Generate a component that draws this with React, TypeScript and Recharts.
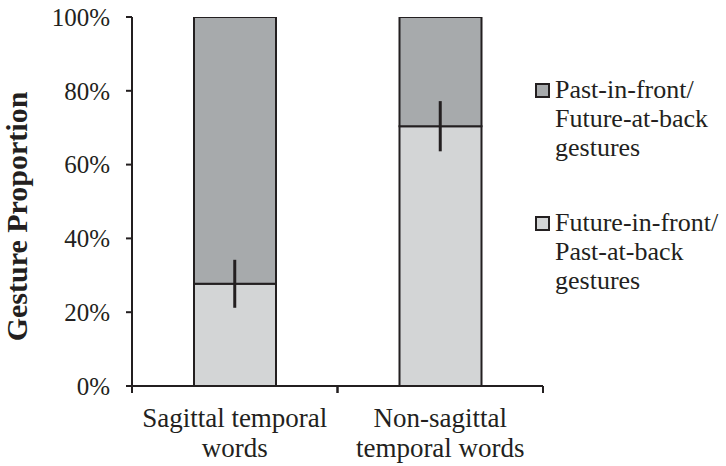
import React from 'react';
import { ComposedChart, Bar, Line, XAxis, YAxis, ErrorBar, Legend } from 'recharts';

// two word types, each split over two label lines
const CATEGORIES = [
  ['Sagittal temporal', 'words'],
  ['Non-sagittal', 'temporal words'],
];
const FUTURE_IN_FRONT = [27.7, 70.4];
const PAST_IN_FRONT = [72.3, 29.6];
const FUTURE_ERROR = [6.5, 6.8];
const Y_TICKS = [0, 20, 40, 60, 80, 100];

const LEGEND_ITEMS = [
  { lines: ['Past-in-front/', 'Future-at-back', 'gestures'], color: '#a7aaac' },
  { lines: ['Future-in-front/', 'Past-at-back', 'gestures'], color: '#d3d5d6' },
];

const INK = '#231f20';
const SERIF = '"Liberation Serif", "Times New Roman", serif';

const data = CATEGORIES.map((lines, i) => ({
  name: lines.join(' '),
  future: FUTURE_IN_FRONT[i],
  past: PAST_IN_FRONT[i],
  err: FUTURE_ERROR[i],
}));

const CategoryTick = (props: any) => {
  const { x, y, payload, index } = props;
  const half = payload.offset ?? 0;
  const lines = CATEGORIES[index] || [];
  return (
    <g>
      <line x1={x - half} x2={x - half} y1={y} y2={y + 7} stroke={INK} strokeWidth={2} />
      <line x1={x + half} x2={x + half} y1={y} y2={y + 7} stroke={INK} strokeWidth={2} />
      {lines.map((t: string, k: number) => (
        <text key={k} x={x} y={y + 41 + k * 30} textAnchor="middle" fill={INK}
          style={{ fontFamily: SERIF, fontSize: 27 }}>
          {t}
        </text>
      ))}
    </g>
  );
};

const YTitle = (props: any) => {
  const { viewBox } = props;
  const cy = viewBox.y + viewBox.height / 2 + 15;
  return (
    <text transform={`translate(${viewBox.x + 27}, ${cy}) rotate(-90)`} textAnchor="middle"
      fill={INK} style={{ fontFamily: SERIF, fontSize: 30, fontWeight: 'bold' }}>
      Gesture Proportion
    </text>
  );
};

const renderLegend = () => (
  <div style={{ fontFamily: SERIF, fontSize: 26, lineHeight: '29px', color: INK }}>
    {LEGEND_ITEMS.map((item, i) => (
      <div key={i} style={{ display: 'flex', alignItems: 'flex-start', marginBottom: i === 0 ? 46 : 0 }}>
        <div style={{
          width: 11, height: 11, marginTop: 8, marginRight: 5,
          background: item.color, border: `2px solid ${INK}`, flexShrink: 0,
        }} />
        <div>
          {item.lines.map((l, k) => <div key={k}>{l}</div>)}
        </div>
      </div>
    ))}
  </div>
);

export default function App() {
  return (
    <div style={{ position: 'absolute', left: 0, top: 0, width: 726, height: 466, background: '#fff' }}>
      <ComposedChart width={726} height={466} data={data}
        margin={{ top: 17, right: 183, left: 0, bottom: 0 }}>
        <XAxis dataKey="name" height={80} axisLine={{ stroke: INK, strokeWidth: 2 }}
          tickLine={false} tickSize={0} tickMargin={0} tick={<CategoryTick />} interval={0} />
        <YAxis width={132} domain={[0, 100]} ticks={Y_TICKS} allowDataOverflow
          tickFormatter={(v) => `${v}%`} axisLine={{ stroke: INK, strokeWidth: 2 }}
          tickLine={{ stroke: INK, strokeWidth: 2 }} tickSize={6} tickMargin={16}
          tick={{ fill: INK, fontSize: 25, fontFamily: SERIF }}
          label={<YTitle />} />
        <Bar dataKey="future" stackId="s" barSize={82} fill="#d3d5d6" stroke={INK}
          strokeWidth={2} isAnimationActive={false} />
        <Bar dataKey="past" stackId="s" barSize={82} fill="#a7aaac" stroke={INK}
          strokeWidth={2} isAnimationActive={false} />
        <Line dataKey="future" stroke="none" dot={false} activeDot={false}
          legendType="none" isAnimationActive={false}>
          <ErrorBar dataKey="err" width={0} stroke={INK} strokeWidth={3} direction="y" />
        </Line>
        <Legend layout="vertical" align="center" verticalAlign="middle" content={renderLegend}
          wrapperStyle={{ left: 535, top: 75, width: 190, height: 230 }} />
      </ComposedChart>
    </div>
  );
}
